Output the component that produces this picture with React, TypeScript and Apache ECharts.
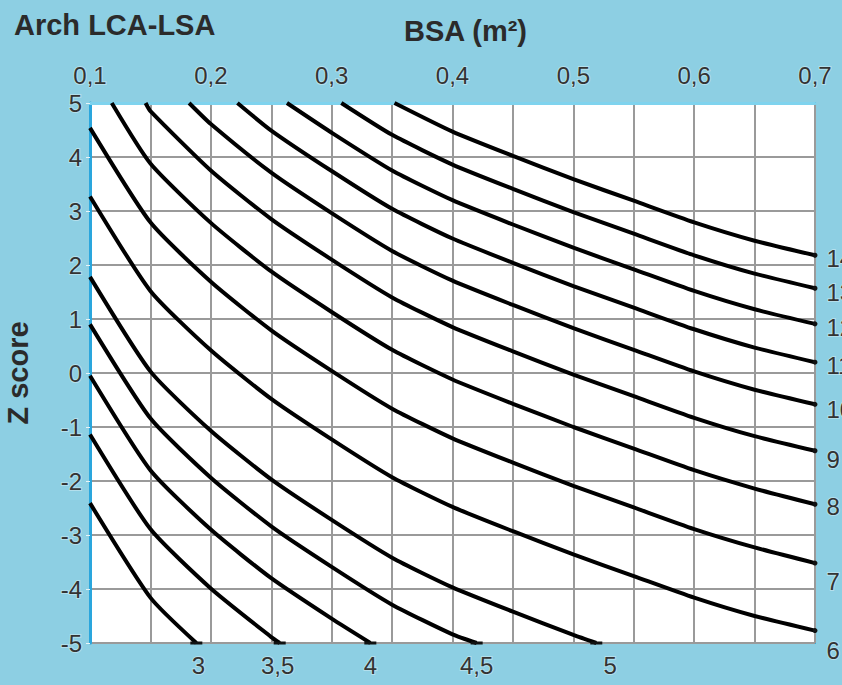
import React, { useEffect, useRef } from "react";
import * as echarts from "echarts";

// LSA (mm) iso-lines: [BSA (m²), Z score]
const curveLabels = ["3", "3,5", "4", "4,5", "5", "6", "7", "8", "9", "10", "11", "12", "13", "14"];

const curve3 = [[0.1, -2.41], [0.15, -4.16], [0.188, -5]];
const curve3_5 = [[0.1, -1.14], [0.15, -2.89], [0.2, -3.99], [0.25, -4.89], [0.257, -5]];
const curve4 = [[0.1, -0.05], [0.15, -1.8], [0.2, -2.9], [0.25, -3.8], [0.3, -4.55], [0.332, -5]];
const curve4_5 = [[0.1, 0.9], [0.15, -0.84], [0.2, -1.94], [0.25, -2.84], [0.3, -3.59], [0.35, -4.29], [0.4, -4.84], [0.42, -5]];
const curve5 = [[0.1, 1.78], [0.15, 0.03], [0.2, -1.07], [0.25, -1.97], [0.3, -2.72], [0.35, -3.42], [0.4, -3.97], [0.45, -4.42], [0.5, -4.85], [0.519, -5]];
const curve6 = [[0.1, 3.27], [0.15, 1.52], [0.2, 0.42], [0.25, -0.48], [0.3, -1.23], [0.35, -1.93], [0.4, -2.48], [0.45, -2.93], [0.5, -3.36], [0.55, -3.76], [0.6, -4.16], [0.65, -4.5], [0.7, -4.77]];
const curve7 = [[0.1, 4.54], [0.15, 2.79], [0.2, 1.69], [0.25, 0.79], [0.3, 0.04], [0.35, -0.66], [0.4, -1.21], [0.45, -1.66], [0.5, -2.09], [0.55, -2.49], [0.6, -2.89], [0.65, -3.23], [0.7, -3.52]];
const curve8 = [[0.118, 5], [0.15, 3.88], [0.2, 2.78], [0.25, 1.88], [0.3, 1.13], [0.35, 0.43], [0.4, -0.12], [0.45, -0.57], [0.5, -1.0], [0.55, -1.4], [0.6, -1.8], [0.65, -2.14], [0.7, -2.43]];
const curve9 = [[0.146, 5], [0.15, 4.85], [0.2, 3.75], [0.25, 2.85], [0.3, 2.1], [0.35, 1.4], [0.4, 0.85], [0.45, 0.4], [0.5, -0.03], [0.55, -0.43], [0.6, -0.83], [0.65, -1.17], [0.7, -1.44]];
const curve10 = [[0.182, 5], [0.2, 4.61], [0.25, 3.71], [0.3, 2.96], [0.35, 2.26], [0.4, 1.71], [0.45, 1.26], [0.5, 0.83], [0.55, 0.43], [0.6, 0.03], [0.65, -0.31], [0.7, -0.58]];
const curve11 = [[0.222, 5], [0.25, 4.49], [0.3, 3.74], [0.35, 3.04], [0.4, 2.49], [0.45, 2.04], [0.5, 1.61], [0.55, 1.21], [0.6, 0.81], [0.65, 0.47], [0.7, 0.2]];
const curve12 = [[0.263, 5], [0.3, 4.45], [0.35, 3.75], [0.4, 3.2], [0.45, 2.75], [0.5, 2.32], [0.55, 1.92], [0.6, 1.52], [0.65, 1.18], [0.7, 0.91]];
const curve13 = [[0.308, 5], [0.35, 4.41], [0.4, 3.86], [0.45, 3.41], [0.5, 2.98], [0.55, 2.58], [0.6, 2.18], [0.65, 1.84], [0.7, 1.57]];
const curve14 = [[0.352, 5], [0.4, 4.47], [0.45, 4.02], [0.5, 3.59], [0.55, 3.19], [0.6, 2.79], [0.65, 2.45], [0.7, 2.18]];

const curves = [curve3, curve3_5, curve4, curve4_5, curve5, curve6, curve7, curve8, curve9, curve10, curve11, curve12, curve13, curve14];

const xMin = 0.1;
const xMax = 0.7;
const xStep = 0.05;
const yMin = -5;
const yMax = 5;
const yStep = 1;

const titleText = "Arch LCA-LSA";
const xAxisName = "BSA (m²)";
const yAxisName = "Z score";

// label layout tweaks (pixels)
const rightLabelOffsetY: Record<string, number> = { "14": 3, "13": 4, "12": 4, "11": 3, "10": 5, "9": 9, "8": 2, "7": 18, "6": 20 };
const bottomLabelOffsetX: Record<string, number> = { "3": 2, "3,5": -2, "4": 0, "4,5": 0, "5": 14 };

const FONT = "'Liberation Sans', Arial, sans-serif";
const TEXT = "#333";
const HALO = "rgba(255,255,255,0.35)";

export default function App() {
  const ref = useRef<HTMLDivElement>(null);
  useEffect(() => {
    if (!ref.current) return;
    const chart = echarts.init(ref.current, null, { renderer: "svg" });
    const series = curves.map((pts, i) => {
      const name = curveLabels[i];
      const last = pts[pts.length - 1];
      const endsBottom = last[1] <= yMin + 1e-9 && last[0] < xMax - 1e-9;
      return {
        type: "line",
        name,
        data: pts,
        showSymbol: false,
        symbol: "none",
        smooth: 0.2,
        clip: true,
        lineStyle: { color: "#000", width: 4 },
        z: 3,
        markPoint: {
          silent: true,
          symbol: endsBottom ? "rect" : "circle",
          symbolSize: endsBottom ? [12, 3] : 5,
          itemStyle: { color: "#111" },
          label: endsBottom
            ? {
                show: true,
                position: "bottom",
                distance: 9,
                offset: [bottomLabelOffsetX[name] || 0, 0],
                formatter: name,
                color: TEXT,
                fontFamily: FONT,
                fontSize: 24,
                textBorderColor: HALO,
                textBorderWidth: 2,
              }
            : {
                show: true,
                position: "right",
                distance: 9,
                offset: [0, rightLabelOffsetY[name] || 0],
                formatter: name,
                color: TEXT,
                fontFamily: FONT,
                fontSize: 24,
                textBorderColor: HALO,
                textBorderWidth: 2,
              },
          data: [{ coord: last }],
        },
      };
    });

    chart.setOption({
      animation: false,
      backgroundColor: "#8dcfe3",
      textStyle: { fontFamily: FONT },
      grid: {
        left: 90,
        right: 27,
        top: 103,
        bottom: 42,
        outerBoundsMode: "none",
        containLabel: false,
        show: true,
        backgroundColor: "#ffffff",
        borderColor: "#3aaad8",
        borderWidth: 2,
      },
      xAxis: {
        type: "value",
        position: "top",
        min: xMin,
        max: xMax,
        interval: xStep,
        name: xAxisName,
        nameLocation: "middle",
        nameGap: 58,
        nameTextStyle: {
          fontFamily: FONT,
          fontSize: 29,
          fontWeight: "bold",
          color: "#2b2b2b",
          padding: [0, 0, 0, 26],
        },
        axisLine: { show: true, onZero: false, lineStyle: { color: "#7fd3ee", width: 3 } },
        axisTick: { show: false },
        axisLabel: {
          color: TEXT,
          fontSize: 24,
          fontFamily: FONT,
          margin: 16,
          showMinLabel: true,
          showMaxLabel: true,
          textBorderColor: HALO,
          textBorderWidth: 2,
          formatter: (v: number) => {
            const r = Math.round(v * 100);
            if (r % 10 !== 0) return "";
            return (r / 100).toFixed(1).replace(".", ",");
          },
        },
        splitLine: { show: true, lineStyle: { color: "#9a9a9a", width: 2 } },
      },
      yAxis: {
        type: "value",
        min: yMin,
        max: yMax,
        interval: yStep,
        name: yAxisName,
        nameLocation: "middle",
        nameRotate: 90,
        nameGap: 58,
        nameTextStyle: { fontFamily: FONT, fontSize: 29, fontWeight: "bold", color: "#2b2b2b" },
        axisLine: { show: true, onZero: false, lineStyle: { color: "#2aa6dd", width: 3 } },
        axisTick: { show: true, length: 4, lineStyle: { color: "#e8f4f8", width: 1 } },
        axisLabel: {
          color: TEXT,
          fontSize: 24,
          fontFamily: FONT,
          margin: 8,
          textBorderColor: HALO,
          textBorderWidth: 2,
        },
        splitLine: { show: true, lineStyle: { color: "#9a9a9a", width: 2 } },
      },
      graphic: [
        {
          type: "text",
          left: 14,
          top: 10,
          style: { text: titleText, fontFamily: FONT, fontSize: 29, fontWeight: "bold", fill: "#2b2b2b" },
        },
      ],
      series,
    });
    return () => chart.dispose();
  }, []);
  return (
    <div
      ref={ref}
      style={{ position: "fixed", left: 0, top: 0, width: 842, height: 685, overflow: "hidden" }}
    />
  );
}
